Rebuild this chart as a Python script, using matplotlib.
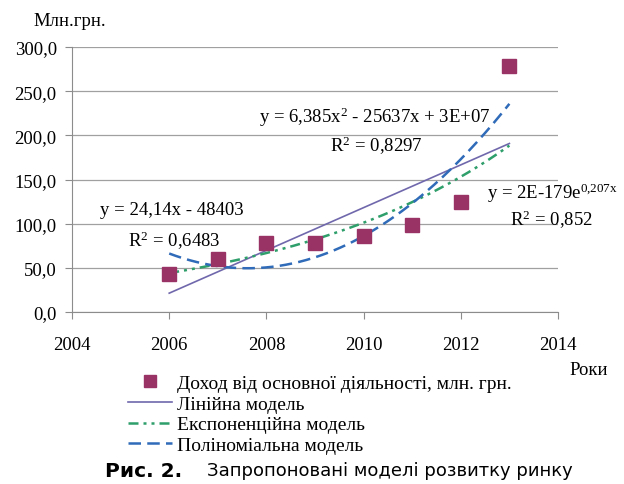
import matplotlib
matplotlib.use("Agg")
import matplotlib.pyplot as plt
import numpy as np
from matplotlib.ticker import FuncFormatter, MultipleLocator
from matplotlib.lines import Line2D

# data
years = [2006, 2007, 2008, 2009, 2010, 2011, 2012, 2013]
income = [43.5, 60.0, 78.5, 78.5, 86.5, 99.0, 124.5, 278.0]

x_ticks = [2004, 2006, 2008, 2010, 2012, 2014]

eq_lin = ["y = 24,14x - 48403", "R$^2$ = 0,6483"]
eq_poly = ["y = 6,385x$^2$ - 25637x + 3E+07", "R$^2$ = 0,8297"]
eq_exp = ["y = 2E-179e$^{\\mathrm{0{,}207x}}$", "R$^2$ = 0,852"]

legend_labels = ["Доход від основної діяльності, млн. грн.",
                 "Лінійна модель",
                 "Експоненційна модель",
                 "Поліноміальна модель"]

c_pts = "#993366"
c_lin = "#7068AC"
c_exp = "#2E9E6A"
c_poly = "#2F6BB8"

plt.rcParams['font.family'] = ['Liberation Serif', 'DejaVu Serif']
plt.rcParams['mathtext.fontset'] = 'custom'
plt.rcParams['mathtext.rm'] = 'Liberation Serif'
plt.rcParams['mathtext.it'] = 'Liberation Serif'

fig = plt.figure(figsize=(6.24, 4.85), dpi=100)
ax = fig.add_axes([0.1154, 0.3546, 0.7788, 0.5464])

x = np.array(years, dtype=float)
y = np.array(income)
xs = np.linspace(x[0], x[-1], 200)
xm = x.mean()

# trend lines fitted from the data (same as the Excel trendlines)
lin = np.polyfit(x, y, 1)
poly = np.polyfit(x - xm, y, 2)
expf = np.polyfit(x - xm, np.log(y), 1)

ax.plot(x, y, 's', color=c_pts, markersize=9.5, zorder=5)
ax.plot(xs, np.polyval(lin, xs), '-', color=c_lin, lw=1.2)
ax.plot(xs, np.exp(np.polyval(expf, xs - xm)), color=c_exp, lw=1.8,
        linestyle=(0, (4, 2, 1.2, 2, 1.2, 2)))
ax.plot(xs, np.polyval(poly, xs - xm), color=c_poly, lw=1.8,
        linestyle=(0, (5, 2.5)))

ax.set_xlim(2004, 2014)
ax.set_ylim(0, 300)
ax.set_xticks(x_ticks)
ax.yaxis.set_major_locator(MultipleLocator(50))
ax.yaxis.set_major_formatter(FuncFormatter(lambda v, p: f"{v:.1f}".replace('.', ',')))
ax.grid(axis='y', color='#a0a0a0', lw=0.9)
ax.set_axisbelow(True)
for s in ['top', 'right']:
    ax.spines[s].set_visible(False)
for s in ['left', 'bottom']:
    ax.spines[s].set_color('#8c8c8c')
ax.tick_params(axis='both', direction='out', length=5, color='#8c8c8c',
               labelsize=13.5)
ax.tick_params(axis='x', pad=12)
ax.tick_params(axis='y', pad=6)

# trendline equations
fs = 13.5
ax.text(2006.06, 115.5, eq_lin[0], fontsize=fs, ha='center', va='center')
ax.text(2006.1, 81.5, eq_lin[1], fontsize=fs, ha='center', va='center')
ax.text(2010.23, 222, eq_poly[0], fontsize=fs, ha='center', va='center')
ax.text(2010.27, 189, eq_poly[1], fontsize=fs, ha='center', va='center')
ax.text(2013.88, 136, eq_exp[0], fontsize=fs, ha='center', va='center')
ax.text(2013.86, 105, eq_exp[1], fontsize=fs, ha='center', va='center')

fig.text(0.053, 0.955, "Млн.грн.", fontsize=13.5, va='center')
fig.text(0.913, 0.237, "Роки", fontsize=13.5, va='center')

handles = [
    Line2D([], [], marker='s', color=c_pts, ls='none', markersize=8),
    Line2D([], [], color=c_lin, lw=1.2),
    Line2D([], [], color=c_exp, lw=1.8, linestyle=(0, (4, 2, 1.2, 2, 1.2, 2))),
    Line2D([], [], color=c_poly, lw=1.8, linestyle=(0, (5, 2.5))),
]
fig.legend(handles, legend_labels, loc='upper left', bbox_to_anchor=(0.189, 0.246),
           frameon=False, fontsize=14, handlelength=2.3, handletextpad=0.25,
           labelspacing=0.16, borderpad=0)

fig.text(0.168, 0.028, "Рис. 2.", fontsize=14.5, fontweight='heavy',
         family=['DejaVu Sans'], va='center')
fig.text(0.332, 0.028, "Запропоновані моделі розвитку ринку", fontsize=13,
         family=['DejaVu Sans'], va='center')

fig.savefig("out.png", dpi=100)
